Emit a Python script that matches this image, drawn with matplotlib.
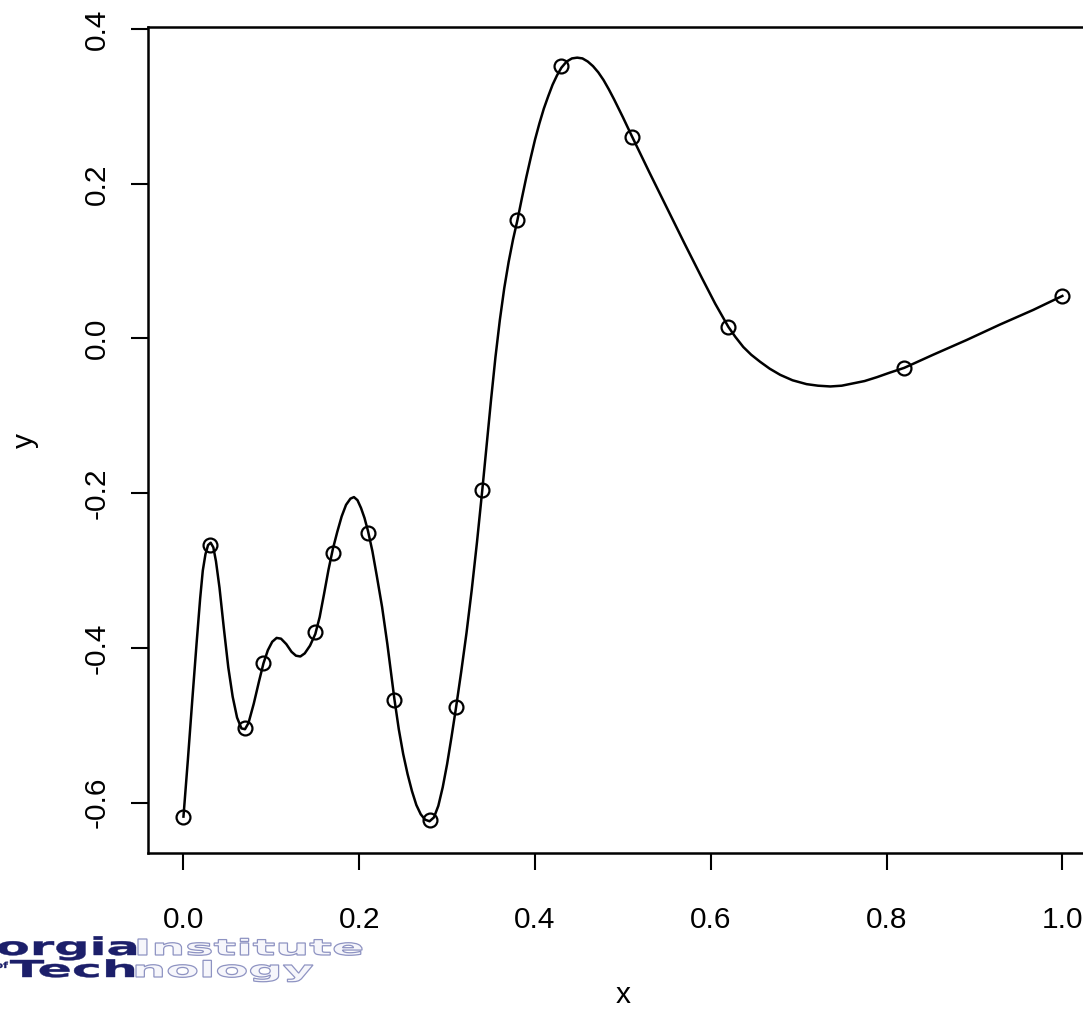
import matplotlib
matplotlib.use("Agg")
import matplotlib.pyplot as plt
from matplotlib.textpath import TextPath
from matplotlib.patches import PathPatch
from matplotlib.font_manager import FontProperties
from matplotlib.transforms import Affine2D, IdentityTransform

# design points
pts_x = [0.00, 0.03, 0.07, 0.09, 0.15, 0.17, 0.21, 0.24, 0.28, 0.31, 0.34,
         0.38, 0.43, 0.51, 0.62, 0.82, 1.00]
pts_y = [-0.618, -0.267, -0.504, -0.419, -0.380, -0.277, -0.251, -0.467,
         -0.623, -0.476, -0.196, 0.153, 0.352, 0.260, 0.015, -0.038, 0.055]

# fitted curve
curve_x = [0.000, 0.005, 0.010, 0.015, 0.019, 0.022, 0.025, 0.028, 0.031,
           0.034, 0.037, 0.041, 0.046, 0.051, 0.056, 0.061, 0.066, 0.070,
           0.074, 0.080, 0.086, 0.091, 0.096, 0.101, 0.106, 0.111, 0.117,
           0.123, 0.128, 0.133, 0.138, 0.144, 0.150, 0.155, 0.160, 0.165,
           0.170, 0.175, 0.180, 0.185, 0.190, 0.194, 0.198, 0.202, 0.206,
           0.210, 0.215, 0.220, 0.226, 0.232, 0.236, 0.240, 0.245, 0.250,
           0.255, 0.260, 0.265, 0.270, 0.275, 0.280, 0.285, 0.290, 0.295,
           0.300, 0.305, 0.310, 0.316, 0.322, 0.328, 0.334, 0.340, 0.345,
           0.350, 0.355, 0.360, 0.365, 0.370, 0.375, 0.380, 0.385, 0.390,
           0.395, 0.400, 0.405, 0.410, 0.415, 0.420, 0.425, 0.430, 0.436,
           0.442, 0.448, 0.454, 0.460, 0.466, 0.472, 0.478, 0.484, 0.490,
           0.500, 0.510, 0.530, 0.550, 0.570, 0.590, 0.605, 0.620, 0.628,
           0.637, 0.646, 0.656, 0.667, 0.679, 0.693, 0.709, 0.722, 0.736,
           0.749, 0.762, 0.775, 0.789, 0.804, 0.820, 0.853, 0.891, 0.929,
           0.967, 1.000]
curve_y = [-0.618, -0.545, -0.468, -0.393, -0.336, -0.300, -0.279, -0.267,
           -0.264, -0.270, -0.288, -0.322, -0.375, -0.425, -0.463, -0.490,
           -0.504, -0.505, -0.497, -0.472, -0.443, -0.420, -0.403, -0.392,
           -0.387, -0.388, -0.395, -0.405, -0.410, -0.411, -0.407, -0.397,
           -0.382, -0.360, -0.330, -0.299, -0.272, -0.250, -0.230, -0.215,
           -0.207, -0.205, -0.209, -0.219, -0.232, -0.249, -0.275, -0.307,
           -0.347, -0.395, -0.430, -0.466, -0.505, -0.537, -0.563, -0.585,
           -0.603, -0.615, -0.622, -0.624, -0.619, -0.604, -0.580, -0.550,
           -0.515, -0.478, -0.431, -0.381, -0.325, -0.263, -0.196, -0.137,
           -0.079, -0.024, 0.024, 0.065, 0.099, 0.128, 0.153, 0.181, 0.208,
           0.233, 0.257, 0.278, 0.297, 0.313, 0.328, 0.340, 0.350, 0.358,
           0.362, 0.363, 0.362, 0.358, 0.352, 0.344, 0.334, 0.322, 0.309,
           0.286, 0.262, 0.215, 0.169, 0.123, 0.078, 0.045, 0.015, 0.002,
           -0.011, -0.021, -0.030, -0.039, -0.047, -0.054, -0.059, -0.061,
           -0.062, -0.061, -0.058, -0.055, -0.050, -0.044, -0.038, -0.021,
           -0.002, 0.018, 0.037, 0.055]

x_ticks = [0.0, 0.2, 0.4, 0.6, 0.8, 1.0]
y_ticks = [-0.6, -0.4, -0.2, 0.0, 0.2, 0.4]

W, H = 1083, 1009
plt.rcParams['font.family'] = ['Liberation Sans', 'DejaVu Sans']

fig = plt.figure(figsize=(W / 100, H / 100), dpi=100)
ax = fig.add_axes([148.3 / W, 1 - 853.3 / H, (1097.5 - 148.3) / W, (853.3 - 26.7) / H])

ax.plot(curve_x, curve_y, color='black', lw=1.8)
ax.plot(pts_x, pts_y, 'o', mfc='none', mec='black', ms=10, mew=1.6)

ax.set_xlim(-0.04, 1.04)
ax.set_ylim(-0.6654, 0.403)
ax.set_xticks(x_ticks)
ax.set_yticks(y_ticks)
ax.set_xticklabels(['%.1f' % v for v in x_ticks])
ax.set_yticklabels(['%.1f' % v for v in y_ticks])
for s in ax.spines.values():
    s.set_linewidth(1.8)
ax.tick_params(length=12, width=1.5, labelsize=21.5)
ax.tick_params(axis='x', pad=26)
ax.tick_params(axis='y', pad=15, labelrotation=90)
plt.setp(ax.get_yticklabels(), va='center')

ax.set_xlabel('x', fontsize=21.5)
ax.set_ylabel('y', fontsize=21.5)
ax.xaxis.set_label_coords(0.5, -0.172)
ax.yaxis.set_label_coords(-0.130, 0.5)
ax.xaxis.label.set_va('center')
ax.yaxis.label.set_va('center')

# logo, partly cut off at the left edge
fp = FontProperties(family='DejaVu Sans', weight='bold')

def logo_word(text, x0, x1, top, base, face, edge, lw, ref='I'):
    path = TextPath((0, 0), text, size=100, prop=fp)
    ext = path.get_extents()
    ref_h = TextPath((0, 0), ref, size=100, prop=fp).get_extents().y1
    sx = (x1 - x0) / ext.width
    sy = (base - top) / ref_h
    tr = Affine2D().translate(-ext.x0, 0).scale(sx, sy).translate(x0, H - base)
    fig.add_artist(PathPatch(tr.transform_path(path), transform=IdentityTransform(),
                             fc=face, ec=edge, lw=lw))

navy = '#1c1f6a'
pale = '#8e93c2'
logo_word('orgia', -2, 136, 941.5, 955, navy, navy, 0.3, ref='x')
logo_word('Institute', 138, 362, 939, 955, '#f6f6fb', pale, 0.9)
logo_word('of', -4, 8, 962, 968, navy, navy, 0.2)
logo_word('Tech', 10, 134, 960, 977, navy, navy, 0.3)
logo_word('nology', 136, 313, 965, 977, '#f6f6fb', pale, 0.9, ref='x')

fig.savefig('out.png', dpi=100)
